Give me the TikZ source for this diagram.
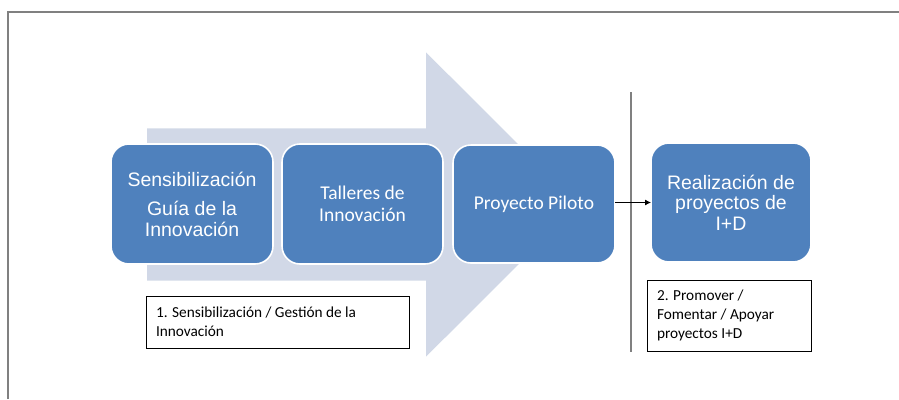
\documentclass[tikz,border=0pt]{standalone}
\usepackage{fontspec}
\setmainfont{Liberation Sans}
\newfontfamily\carlito{Carlito}
\usetikzlibrary{arrows.meta}
\definecolor{arrowbg}{HTML}{D1D8E7}
\definecolor{boxblue}{HTML}{4F81BD}
\definecolor{framegray}{HTML}{808080}
\tikzset{
  bluebox/.style={draw=white, line width=1.6pt, fill=boxblue, rounded corners=18pt,
    text=white, align=center, inner sep=0pt, outer sep=0pt},
  bigarial/.style={font=\fontsize{19.5}{20.5}\selectfont},
  bigcal/.style={font=\carlito\fontsize{19.5}{22}\selectfont},
  labelbox/.style={draw=black, line width=0.9pt, fill=white, align=flush left,
    font=\carlito\fontsize{15.3}{18.6}\selectfont, inner xsep=10pt, inner ysep=0pt, outer sep=0pt},
  sepline/.style={draw=framegray, line width=1.4pt},
  connector/.style={draw=black, line width=0.9pt, -{Latex[length=6pt,width=6pt]}}
}
\begin{document}
\begin{tikzpicture}[x=1pt,y=-1pt]
\useasboundingbox (0,0) rectangle (899,399);
% frame
\draw[framegray, line width=2pt] (8,399) -- (8,12) -- (899,12);
% big background arrow
\fill[arrowbg] (147,128.3) -- (426,128.3) -- (426,52.3) -- (578.5,204.5) -- (426,356.7) -- (426,280.7) -- (147,280.7) -- cycle;
% boxes
\node[bluebox, bigarial, minimum width=162pt, minimum height=120pt] (box1) at (192,204)
  {Sensibilización\\[9pt]Guía de la\\Innovación};
\node[bluebox, bigcal, minimum width=161pt, minimum height=120pt] (box2) at (362.5,204)
  {Talleres de\\Innovación};
\node[bluebox, bigcal, minimum width=162pt, minimum height=118pt] (box3) at (534,204)
  {Proyecto Piloto};
\node[bluebox, bigarial, minimum width=160pt, minimum height=119pt] (box4) at (731,202.5)
  {Realización de\\proyectos de\\I+D};
% separator line
\coordinate (septop) at (631,92);
\coordinate (sepbot) at (631,352);
\draw[sepline] (septop) -- (sepbot);
% connector
\draw[connector] (box4.west -| box3.east) -- (box4.west);
% labels
\node[labelbox, minimum width=263pt, minimum height=52pt, text width=243pt] (lab1) at (277.5,322)
  {1. Sensibilización / Gestión de la\\Innovación};
\node[labelbox, minimum width=164pt, minimum height=71pt, text width=144pt] (lab2) at (729,315.5)
  {2. Promover /\\Fomentar / Apoyar\\proyectos I+D};
\end{tikzpicture}
\end{document}
